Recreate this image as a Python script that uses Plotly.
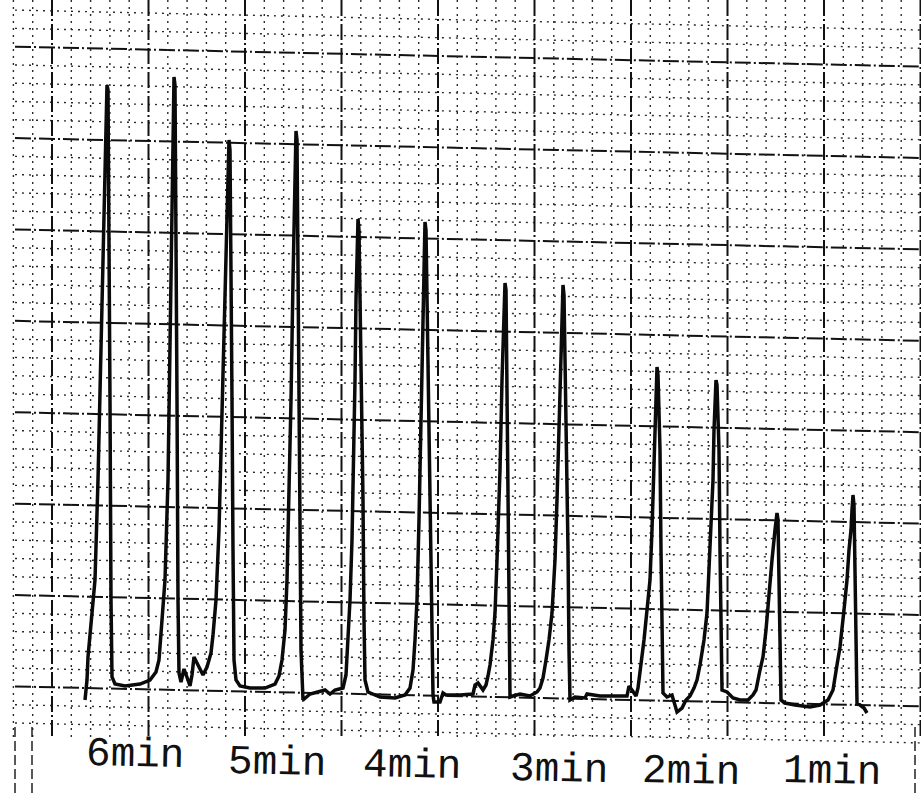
import plotly.graph_objects as go

# Recorder trace: time position (chart units) and signal height above baseline (chart units)
time = [85, 87, 88, 91, 95, 98, 101, 104, 106, 107, 108, 109, 110, 111, 112,
        115, 125, 140, 150, 156,
        159, 162, 165, 168, 170, 172, 173, 174, 175, 176, 177, 178, 179,
        181, 184, 188, 190, 192, 194, 197, 200, 203, 207, 211,
        213, 216, 219, 221, 223, 225, 227, 228, 229, 230, 231, 232, 233, 234, 236,
        240, 250, 265, 275, 279,
        282, 285, 287, 289, 291, 293, 295, 296, 297, 298, 299, 300, 301, 303,
        310, 325, 330, 335, 343,
        346, 348, 350, 352, 354, 355, 356, 357, 358, 359, 361, 363, 364, 365,
        368, 380, 395, 405, 410,
        413, 415, 417, 419, 421, 422, 424, 425, 426, 428, 430, 432, 433,
        434, 440, 443, 446, 460, 473,
        475, 478, 483, 486,
        488, 490, 493, 495, 497, 499, 500, 502, 504, 505, 506, 507, 508, 509, 510,
        513, 520, 530, 537, 540,
        543, 546, 549, 552, 555, 557, 559, 561, 563, 564, 566, 568, 569, 570,
        575, 585, 587, 600, 627,
        629, 632, 636, 638,
        640, 644, 648, 650, 652, 654, 655, 656, 657, 658, 660, 661, 662, 663,
        667, 672, 677, 682, 686, 690, 694, 697,
        700, 704, 707, 709, 711, 713, 714, 715, 716, 717, 719, 720, 721, 722,
        727, 733, 740, 748, 753,
        756, 760, 763, 766, 769, 772, 775, 776, 777, 778, 779, 780, 781,
        785, 795, 810, 820, 828,
        833, 837, 840, 844, 847, 849, 851, 852, 853, 854, 855, 856, 857,
        860, 864, 867]

signal = [-13, 7, 30, 67, 107, 207, 337, 487, 577, 602, 597, 487, 287, 87, 10,
          3, 1, 3, 7, 15,
          27, 67, 107, 207, 337, 487, 577, 610, 602, 487, 287, 87, 14,
          5, 18, 7, 1, 12, 30, 24, 17, 12, 20, 34,
          52, 87, 157, 237, 307, 387, 487, 527, 547, 537, 437, 287, 137, 27, 7,
          1, -1, -1, 3, 11,
          27, 57, 107, 187, 287, 407, 517, 556, 547, 437, 287, 137, 37, -13,
          -7, -3, -7, -3, -1,
          12, 47, 87, 147, 237, 307, 387, 447, 468, 457, 337, 187, 67, 7,
          -5, -10, -11, -8, -1,
          17, 47, 87, 167, 267, 337, 427, 465, 457, 337, 187, 67, -8,
          -15, -15, -6, -8, -8, -7,
          2, 4, -3, 2,
          11, 22, 47, 74, 127, 187, 217, 307, 377, 404, 397, 307, 187, 67, -10,
          -9, -7, -9, -5, -1,
          9, 27, 47, 74, 127, 187, 257, 347, 402, 392, 287, 137, 37, -13,
          -10, -11, -7, -9, -9,
          1, -3, -9, -1,
          14, 47, 87, 107, 157, 217, 247, 287, 320, 312, 237, 137, 37, -6,
          -10, -8, -25, -21, -13, -9, -1, 7,
          22, 47, 74, 117, 167, 207, 257, 287, 307, 302, 237, 137, 37, -3,
          -5, -11, -13, -13, -8,
          -3, 17, 30, 57, 97, 127, 157, 167, 174, 167, 107, 47, -13,
          -16, -18, -20, -18, -13,
          -3, 22, 40, 77, 107, 137, 157, 177, 192, 182, 107, 37, -16,
          -18, -21, -26]

labels = ["6min", "5min", "4min", "3min", "2min", "1min"]
label_time = [134.5, 277, 412, 559, 691, 832]
label_level = [-68, -76, -79, -83, -85, -85]

fig = go.Figure()

# ---- chart-paper grid (slightly skewed like the scanned paper) ----
X0, X1 = 15, 921
SKEW = -0.022           # grid lines sink slightly to the right
MAJOR_STYLE = dict(color="#111", width=2, dash="16px,3px,2px,3px")
MINOR_STYLE = dict(color="#2a2a2a", width=1.4, dash="2px,5px")


def hline(level, major):
    y0 = level + SKEW * (X0 - 40)
    y1 = level + SKEW * (X1 - 40)
    fig.add_shape(type="line", xref="x", yref="y", x0=X0, x1=X1, y0=y0, y1=y1,
                  line=MAJOR_STYLE if major else MINOR_STYLE, layer="below")


MAJ_H = 91.4
for k in range(-1, 8):
    for m in range(5):
        lvl = k * MAJ_H + m * MAJ_H / 5
        if -40 <= lvl <= 690:
            hline(lvl, m == 0)

for j in range(-2, 46):
    xv = 52 + 19.3 * j
    if xv < 10 or xv > 921:
        continue
    major = (j % 5 == 0)
    fig.add_shape(type="line", xref="x", yref="y", x0=xv, x1=xv, y0=687, y1=-52,
                  line=MAJOR_STYLE if major else MINOR_STYLE, layer="below")

# edges running through the label strip
for xv in (15, 32, 915):
    fig.add_shape(type="line", xref="x", yref="y", x0=xv, x1=xv, y0=-40, y1=-110,
                  line=dict(color="#222", width=1.5, dash="10px,4px"), layer="below")

# ---- the recorder trace ----
fig.add_trace(go.Scatter(x=time, y=signal, mode="lines",
                         line=dict(color="#0a0a0a", width=3.5),
                         hoverinfo="skip", showlegend=False))

for t, x, y in zip(labels, label_time, label_level):
    fig.add_annotation(x=x, y=y, xref="x", yref="y", text=t, showarrow=False,
                       textangle=1.2,
                       font=dict(family="Liberation Mono", size=41, color="#111"),
                       xanchor="center", yanchor="middle")

fig.update_layout(
    width=921, height=797,
    margin=dict(l=0, r=0, t=0, b=0),
    paper_bgcolor="white", plot_bgcolor="white",
    xaxis=dict(range=[0, 921], visible=False, fixedrange=True),
    yaxis=dict(range=[-110, 687], visible=False, fixedrange=True),
    showlegend=False,
)

fig.write_html("out.html")
